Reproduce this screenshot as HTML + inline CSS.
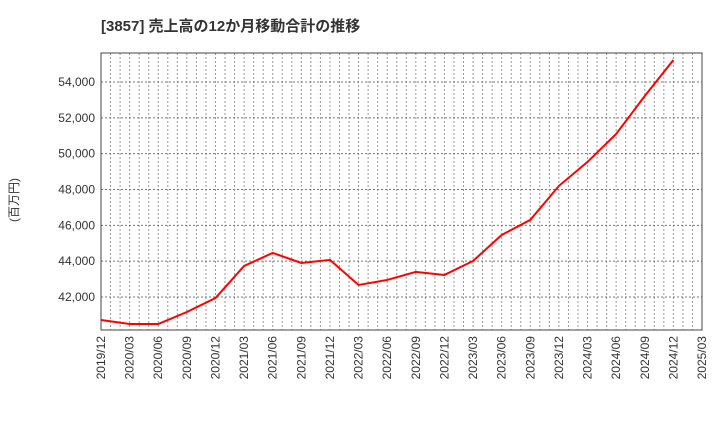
<!DOCTYPE html>
<html><head><meta charset="utf-8"><style>
body{margin:0;background:#fff;width:720px;height:440px;overflow:hidden}
text{font-family:"Liberation Sans","Noto Sans CJK JP",sans-serif}
</style></head><body>
<svg id="chart" width="720" height="440" xmlns="http://www.w3.org/2000/svg">
<text x="101" y="31" font-size="15" font-weight="bold" fill="#333">[3857]  売上高の12か月移動合計の推移</text>
<text transform="translate(18,200) rotate(-90)" text-anchor="middle" font-size="12" fill="#333">(百万円)</text>
<g id="grid"></g><g id="axes"></g><g id="series"></g>
</svg>
<script>
const xLabels=["2019/12","2020/03","2020/06","2020/09","2020/12","2021/03","2021/06","2021/09","2021/12","2022/03","2022/06","2022/09","2022/12","2023/03","2023/06","2023/09","2023/12","2024/03","2024/06","2024/09","2024/12","2025/03"];
const values=[40715,40490,40490,41160,41940,43730,44460,43900,44070,42670,42950,43400,43230,44010,45460,46300,48200,49540,51100,53220,55230];
const yTicks=[42000,44000,46000,48000,50000,52000,54000];
const L=101,R=702,T=53,B=330,yMin=40156,yMax=55620;
const NS="http://www.w3.org/2000/svg";
const xq=i=>L+(R-L)*i/(xLabels.length-1);
const xm=m=>L+(R-L)*m/((xLabels.length-1)*3);
const y=v=>B-(v-yMin)/(yMax-yMin)*(B-T);
function mk(t,a,p){const e=document.createElementNS(NS,t);for(const k in a)e.setAttribute(k,a[k]);p.appendChild(e);return e;}
const g=document.getElementById('grid'),ax=document.getElementById('axes'),s=document.getElementById('series');
for(let m=1;m<(xLabels.length-1)*3;m++){const l=mk('line',{x1:xm(m),x2:xm(m),y1:T,y2:B,stroke:'#999','stroke-dasharray':'2,2','stroke-width':1},g);

}
yTicks.forEach(v=>{const l=mk('line',{x1:L,x2:R,y1:y(v),y2:y(v),stroke:'#777','stroke-dasharray':'2,2','stroke-width':1},g);


const t=mk('text',{x:L-6,y:y(v)+4,'text-anchor':'end','font-size':12,fill:'#333'},ax);t.textContent=v.toLocaleString('en-US');

});
xLabels.forEach((lb,i)=>{const t=mk('text',{transform:`translate(${xq(i)+4},${B+6}) rotate(-90)`,'text-anchor':'end','font-size':12,fill:'#333'},ax);t.textContent=lb;

});
const r=mk('rect',{x:L,y:T,width:R-L,height:B-T,fill:'none',stroke:'#444','stroke-width':1},ax);


const p=mk('polyline',{points:values.map((v,i)=>xq(i)+','+y(v)).join(' '),fill:'none',stroke:'#f00','stroke-width':2},s);


</script>
</body></html>
